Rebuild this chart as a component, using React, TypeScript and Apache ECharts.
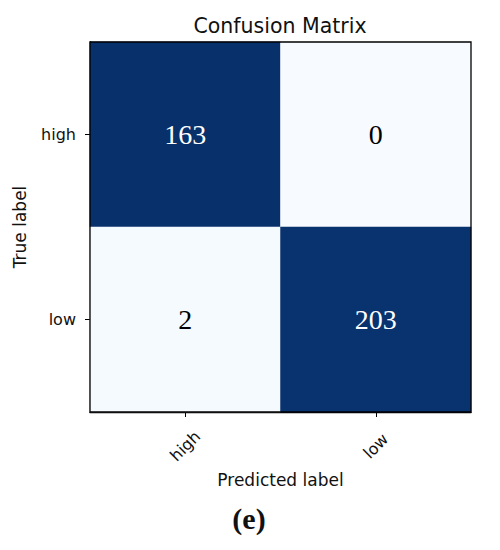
import React, { useEffect, useRef } from "react";
import * as echarts from "echarts";

const predictedLabels = ["high", "low"];
const trueLabels = ["high", "low"];
// counts[trueIndex][predIndex]
const counts = [
  [163, 0],
  [2, 203],
];
const bluesColors = [
  "#f7fbff",
  "#deebf7",
  "#c6dbef",
  "#9ecae1",
  "#6baed6",
  "#4292c6",
  "#2171b5",
  "#08519c",
  "#08306b",
];

export default function App() {
  const ref = useRef<HTMLDivElement>(null);
  useEffect(() => {
    if (!ref.current) return;
    const chart = echarts.init(ref.current, null, { renderer: "svg" });
    const data: any[] = [];
    counts.forEach((row, ti) => {
      const total = row.reduce((a, b) => a + b, 0);
      row.forEach((v, pi) => {
        const rate = total ? v / total : 0;
        data.push({
          value: [pi, ti, v, rate],
          label: { color: rate > 0.5 ? "#ffffff" : "#000000" },
        });
      });
    });
    const sans = "DejaVu Sans";
    chart.setOption({
      animation: false,
      backgroundColor: "#ffffff",
      grid: {
        left: 90,
        top: 42,
        width: 381,
        height: 370,
        outerBoundsMode: "none",
        containLabel: false,
        show: true,
        borderColor: "#000",
        borderWidth: 1.3,
        backgroundColor: "transparent",
        z: 10,
      },
      xAxis: {
        type: "category",
        data: predictedLabels,
        name: "Predicted label",
        nameLocation: "middle",
        nameGap: 57,
        nameTextStyle: { fontFamily: sans, fontSize: 17, color: "#111" },
        axisLine: { show: true, lineStyle: { color: "#000", width: 1.3 } },
        axisTick: { show: true, alignWithLabel: true, length: 5, lineStyle: { color: "#000" } },
        axisLabel: {
          rotate: 45,
          align: "center",
          verticalAlign: "middle",
          margin: 34,
          fontFamily: sans,
          fontSize: 16,
          color: "#111",
        },
        splitLine: { show: false },
      },
      yAxis: {
        type: "category",
        data: trueLabels,
        inverse: true,
        name: "True label",
        nameLocation: "middle",
        nameGap: 62,
        nameRotate: 90,
        nameTextStyle: { fontFamily: sans, fontSize: 17, color: "#111" },
        axisLine: { show: true, lineStyle: { color: "#000", width: 1.3 } },
        axisTick: { show: true, alignWithLabel: true, length: 5, lineStyle: { color: "#000" } },
        axisLabel: { margin: 14, fontFamily: sans, fontSize: 16, color: "#111" },
        splitLine: { show: false },
      },
      visualMap: {
        show: false,
        type: "continuous",
        min: 0,
        max: 1,
        dimension: 3,
        inRange: { color: bluesColors },
      },
      series: [
        {
          type: "heatmap",
          data,
          label: {
            show: true,
            formatter: (p: any) => String(p.value[2]),
            fontFamily: "Liberation Serif",
            fontSize: 28,
          },
          itemStyle: { borderWidth: 0 },
        },
      ],
      graphic: [
        {
          type: "text",
          x: 280,
          y: 26,
          style: {
            text: "Confusion Matrix",
            fontFamily: sans,
            fontSize: 20.5,
            fill: "#111",
            textAlign: "center",
            textVerticalAlign: "middle",
          },
        },
        {
          type: "text",
          x: 249,
          y: 518,
          style: {
            text: "(e)",
            fontFamily: "Liberation Serif",
            fontSize: 30,
            fontWeight: "bold",
            fill: "#111",
            textAlign: "center",
            textVerticalAlign: "middle",
          },
        },
      ],
    });
    return () => chart.dispose();
  }, []);
  return (
    <div
      ref={ref}
      style={{ position: "absolute", left: 0, top: 0, width: 500, height: 550 }}
    />
  );
}
